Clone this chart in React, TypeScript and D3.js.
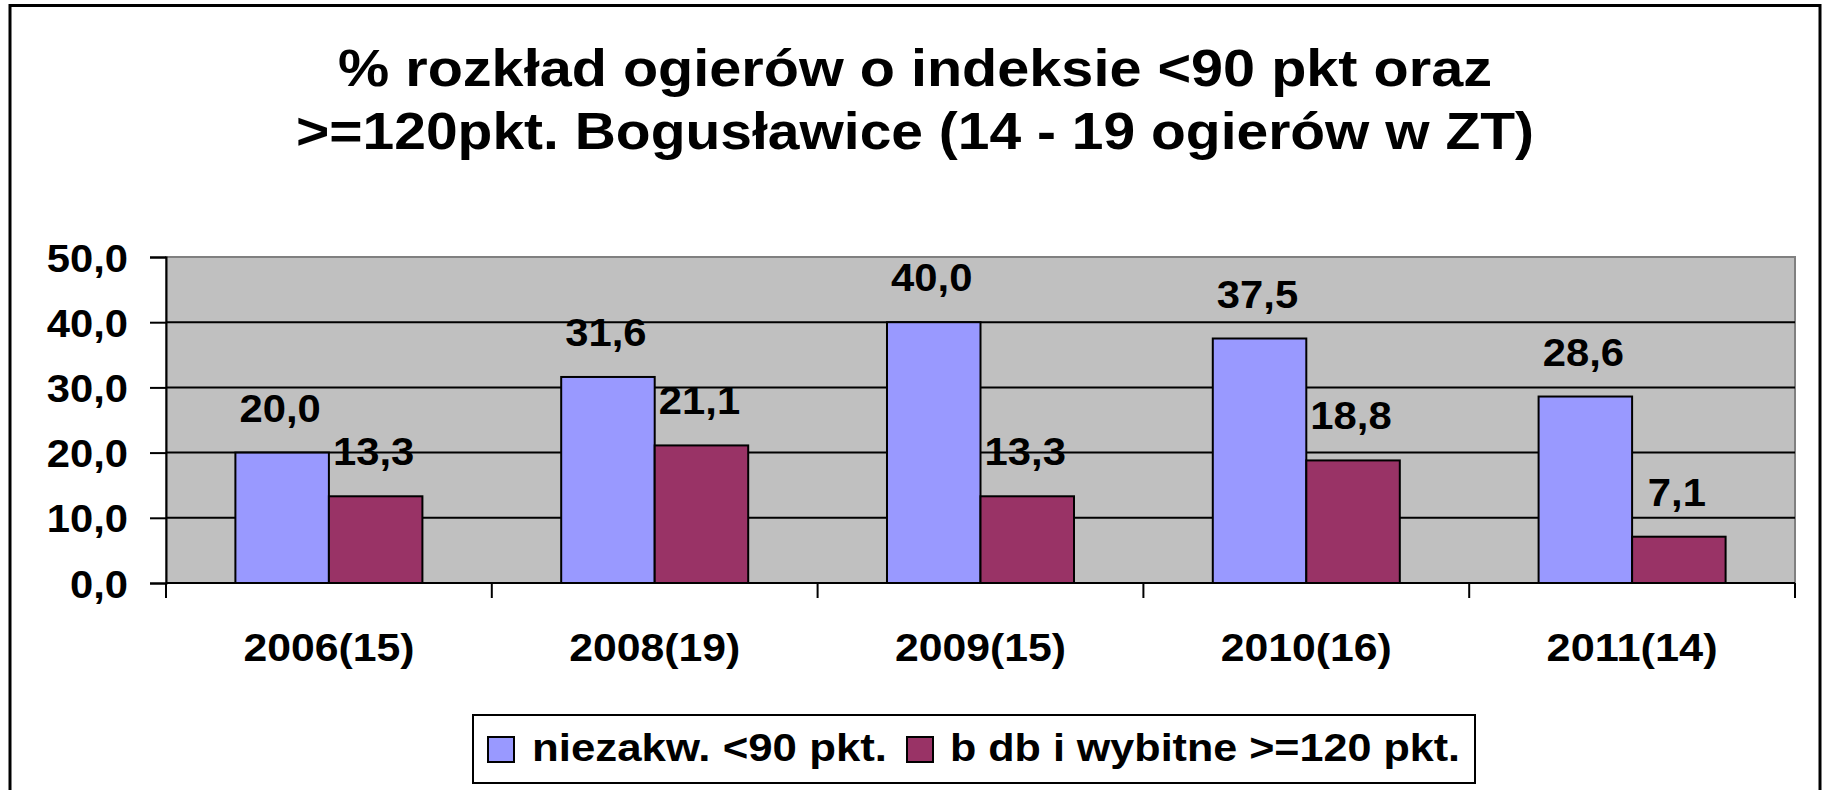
import React, { useRef, useEffect } from 'react';
import * as d3 from 'd3';

const categories = ['2006(15)', '2008(19)', '2009(15)', '2010(16)', '2011(14)'];
const seriesNames = ['niezakw. <90 pkt.', 'b db i wybitne >=120 pkt.'];
const below90 = [20.0, 31.6, 40.0, 37.5, 28.6];
const above120 = [13.3, 21.1, 13.3, 18.8, 7.1];
const yTicks = [0, 10, 20, 30, 40, 50];
const titleLines = [
  '% rozkład ogierów o indeksie <90 pkt oraz',
  '>=120pkt. Bogusławice (14 - 19 ogierów w ZT)',
];
const colors = ['#9999FF', '#993366'];

const FONT = "'Liberation Sans', Arial, sans-serif";
const fmt = (v: number) => v.toFixed(1).replace('.', ',');

// the original text is a little wider than Arial, stretch it a bit
const widen = (sel: any, k: number) => {
  sel.each(function (this: SVGTextElement) {
    const len = this.getComputedTextLength();
    d3.select(this).attr('textLength', len * k).attr('lengthAdjust', 'spacingAndGlyphs');
  });
};

const App = () => {
  const chartRef = useRef<HTMLDivElement>(null);

  useEffect(() => {
    const container = d3.select(chartRef.current);
    container.select('svg').remove();

    const width = 1823;
    const height = 790;
    const plot = { left: 166, right: 1795, top: 257, bottom: 583 };

    const svg = container
      .append('svg')
      .attr('width', width)
      .attr('height', height)
      .style('position', 'absolute')
      .style('left', '0px')
      .style('top', '0px')
      .style('font-family', FONT)
      .style('font-weight', 'bold');

    // outer frame
    svg.append('rect')
      .attr('x', 10).attr('y', 5.5)
      .attr('width', 1810).attr('height', 800)
      .attr('fill', '#fff')
      .attr('stroke', '#000')
      .attr('stroke-width', 3);

    // title
    const titleLens = [1154, 1238];
    svg.selectAll('.title')
      .data(titleLines)
      .enter()
      .append('text')
      .attr('class', 'title')
      .attr('x', 915)
      .attr('y', (_d, i) => 86 + i * 63)
      .attr('text-anchor', 'middle')
      .attr('font-size', 52)
      .attr('textLength', (_d, i) => titleLens[i])
      .attr('lengthAdjust', 'spacingAndGlyphs')
      .text(d => d);

    const x0 = d3.scaleBand<string>()
      .domain(categories)
      .range([plot.left, plot.right]);
    const bw = x0.bandwidth();
    const x1 = d3.scaleBand<number>()
      .domain([0, 1])
      .range([bw * 0.213, bw * 0.787]);
    const y = d3.scaleLinear()
      .domain([0, 50])
      .range([plot.bottom, plot.top]);

    // plot area
    svg.append('rect')
      .attr('x', plot.left).attr('y', plot.top)
      .attr('width', plot.right - plot.left)
      .attr('height', plot.bottom - plot.top)
      .attr('fill', '#C0C0C0')
      .attr('stroke', '#808080')
      .attr('stroke-width', 2);

    // gridlines
    svg.selectAll('.grid')
      .data(yTicks.filter(t => t > 0 && t < 50))
      .enter()
      .append('line')
      .attr('x1', plot.left).attr('x2', plot.right)
      .attr('y1', d => y(d)).attr('y2', d => y(d))
      .attr('stroke', '#000')
      .attr('stroke-width', 2);

    // bars
    const rows = categories.map((c, i) => ({ c, vals: [below90[i], above120[i]] }));
    const groups = svg.selectAll('.grp')
      .data(rows)
      .enter()
      .append('g')
      .attr('transform', d => `translate(${x0(d.c)},0)`);

    groups.selectAll('rect')
      .data(d => d.vals)
      .enter()
      .append('rect')
      .attr('x', (_d, i) => x1(i) as number)
      .attr('y', d => y(d))
      .attr('width', x1.bandwidth())
      .attr('height', d => y(0) - y(d))
      .attr('fill', (_d, i) => colors[i])
      .attr('stroke', '#000')
      .attr('stroke-width', 2);

    const valLabels = groups.selectAll('text')
      .data(d => d.vals)
      .enter()
      .append('text')
      .attr('x', (_d, i) => (x1(i) as number) + x1.bandwidth() / 2 - 2)
      .attr('y', d => y(d) - 31)
      .attr('text-anchor', 'middle')
      .attr('font-size', 38)
      .text(d => fmt(d));
    widen(valLabels, 1.1);

    // y axis
    const yAxis = svg.append('g')
      .attr('transform', `translate(${plot.left},0)`)
      .call(d3.axisLeft(y).tickValues(yTicks).tickSize(16).tickPadding(22).tickFormat(d => fmt(+d)));
    yAxis.select('.domain').attr('stroke', '#000').attr('stroke-width', 2);
    yAxis.selectAll('.tick line').attr('stroke', '#000').attr('stroke-width', 2);
    const yLabels = yAxis.selectAll('.tick text')
      .attr('font-family', FONT)
      .attr('font-weight', 'bold')
      .attr('font-size', 39)
      .attr('fill', '#000')
      .attr('dy', '0.36em');
    widen(yLabels, 1.07);

    // x axis
    svg.append('line')
      .attr('x1', plot.left).attr('x2', plot.right)
      .attr('y1', plot.bottom).attr('y2', plot.bottom)
      .attr('stroke', '#000').attr('stroke-width', 2);
    const bounds = [...categories.map(c => x0(c) as number), plot.right];
    svg.selectAll('.xtick')
      .data(bounds)
      .enter()
      .append('line')
      .attr('x1', d => d).attr('x2', d => d)
      .attr('y1', plot.bottom).attr('y2', plot.bottom + 15)
      .attr('stroke', '#000').attr('stroke-width', 2);
    svg.selectAll('.xlab')
      .data(categories)
      .enter()
      .append('text')
      .attr('x', d => (x0(d) as number) + bw / 2)
      .attr('y', 661)
      .attr('text-anchor', 'middle')
      .attr('font-size', 39)
      .attr('textLength', 171)
      .attr('lengthAdjust', 'spacingAndGlyphs')
      .text(d => d);

    // legend
    const legend = svg.append('g');
    legend.append('rect')
      .attr('x', 473).attr('y', 715)
      .attr('width', 1002).attr('height', 68)
      .attr('fill', '#fff')
      .attr('stroke', '#000')
      .attr('stroke-width', 2);
    const legItems = [
      { sx: 488, tx: 532, tl: 355 },
      { sx: 907, tx: 950, tl: 510 },
    ];
    legend.selectAll('.sw')
      .data(legItems)
      .enter()
      .append('rect')
      .attr('x', d => d.sx).attr('y', 737)
      .attr('width', 26).attr('height', 25)
      .attr('fill', (_d, i) => colors[i])
      .attr('stroke', '#000')
      .attr('stroke-width', 2);
    legend.selectAll('.lt')
      .data(legItems)
      .enter()
      .append('text')
      .attr('x', d => d.tx).attr('y', 761)
      .attr('font-size', 38)
      .attr('textLength', d => d.tl)
      .attr('lengthAdjust', 'spacingAndGlyphs')
      .text((_d, i) => seriesNames[i]);
  }, []);

  return <div ref={chartRef}></div>;
};

export default App;
